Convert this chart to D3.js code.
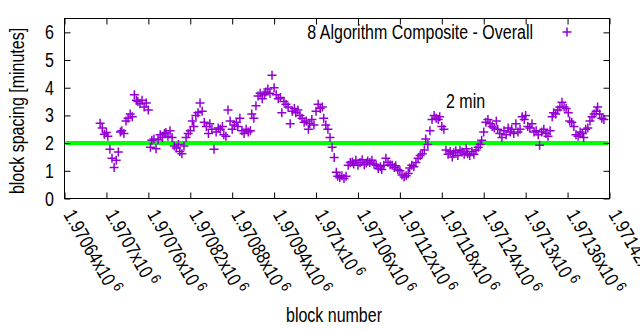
<!DOCTYPE html>
<html><head><meta charset="utf-8">
<script src="https://cdn.jsdelivr.net/npm/d3@7"></script>
<style>
html,body{margin:0;padding:0;background:#fff;}
svg{display:block;}
text{font-family:"Liberation Sans",Arial,sans-serif;fill:#000;}
</style></head>
<body>
<svg id="chart" width="640" height="330"></svg>
<script>
// ---- data ----
const firstBlock = 1970691;
const lastBlock = 1971412;
const spacing = [
2.72,2.55,2.32,2.38,2.25,1.78,1.45,1.12,1.38,1.68,
2.40,2.45,2.35,2.80,2.90,3.05,2.95,3.75,3.55,3.50,
3.42,3.55,3.30,3.45,3.20,1.85,2.10,2.15,1.80,2.12,
2.30,2.20,2.35,2.38,2.25,2.45,2.20,1.90,1.82,1.95,
1.70,1.62,1.90,2.20,2.35,2.45,2.80,2.60,3.00,3.10,
3.45,3.15,2.75,2.60,2.35,2.70,2.50,1.78,2.40,2.55,
2.50,2.60,2.30,2.25,3.20,2.80,2.50,2.65,2.75,2.60,
2.90,2.45,2.35,2.50,2.40,2.45,3.05,2.90,3.35,3.70,
3.80,3.60,3.75,3.85,3.95,3.80,4.45,4.00,3.75,3.60,
3.65,3.10,3.50,3.40,3.30,2.70,3.15,3.25,3.10,3.20,
3.00,2.90,2.75,2.80,2.50,2.70,2.85,2.65,3.15,3.40,
3.25,3.30,2.90,2.65,2.50,2.20,1.85,1.48,0.95,0.80,
0.75,0.82,0.72,0.80,1.20,1.30,1.32,1.25,1.38,1.20,
1.30,1.40,1.22,1.28,1.35,1.30,1.38,1.25,1.20,1.08,
1.15,1.05,1.20,1.45,1.30,1.22,1.20,1.12,1.18,1.05,
1.00,0.85,0.78,0.82,0.90,1.10,1.20,1.15,1.30,1.45,
1.55,1.62,1.75,2.15,1.95,2.45,2.85,3.00,2.90,2.85,
2.95,2.60,2.50,1.75,1.60,1.70,1.50,1.65,1.72,1.55,
1.75,1.68,1.60,1.80,1.62,1.55,1.70,1.60,1.75,1.85,
1.95,2.10,2.40,2.75,2.85,2.70,2.60,2.55,2.80,2.50,
2.35,2.20,2.45,2.30,2.55,2.40,2.50,2.35,2.70,2.40,
2.50,2.95,2.85,3.00,2.60,2.55,2.70,2.40,2.45,2.30,
1.92,2.40,2.50,2.35,2.25,2.45,2.95,3.10,3.05,3.20,
3.30,3.48,3.30,3.25,3.10,2.80,2.75,2.60,2.30,2.25,
2.40,2.35,2.20,2.50,2.55,2.80,2.95,3.05,3.15,3.30,
3.05,2.90,2.85
];
const target = 2;
const xTickValues = [1970640,1970700,1970760,1970820,1970880,1970940,1971000,1971060,1971120,1971180,1971240,1971300,1971360,1971420];
const xTickLabels = ["1.97064","1.9707","1.97076","1.97082","1.97088","1.97094","1.971","1.97106","1.97112","1.97118","1.97124","1.9713","1.97136","1.97142"];
const yTickValues = [0,1,2,3,4,5,6];
const seriesName = "8 Algorithm Composite - Overall";
const targetLabel = "2 min";

const n = spacing.length;
const points = spacing.map((v, i) => ({
  block: firstBlock + Math.round(i * (lastBlock - firstBlock) / (n - 1)),
  v: v
}));

// ---- layout ----
const svg = d3.select("#chart");
const L = 64.5, R = 609.5, T = 18.5, B = 198.5;
const x = d3.scaleLinear().domain([1970640, 1971420]).range([L, R]);
const y = d3.scaleLinear().domain([0, 6.5]).range([B, T]);
const purple = "#9400d3";
const FS = 19.5, SX = 0.82;   // narrow sans look

function label(parent, px, py, str, anchor, rot) {
  return parent.append("text")
    .attr("transform", `translate(${px},${py}) rotate(${rot || 0}) scale(${SX},1)`)
    .attr("text-anchor", anchor || "start")
    .attr("font-size", FS)
    .text(str);
}

// target line
svg.append("line")
  .attr("x1", x(1970640)+1).attr("x2", x(1971420)-1)
  .attr("y1", y(target)).attr("y2", y(target))
  .attr("stroke", "#00ff00").attr("stroke-width", 4);

// points
const cs = 4.5;
const gp = svg.append("g").attr("stroke", purple).attr("stroke-width", 1.5).attr("fill","none");
points.forEach(p => {
  const px = x(p.block), py = y(p.v);
  gp.append("path").attr("d", `M${px-cs},${py}H${px+cs}M${px},${py-cs}V${py+cs}`);
});

// frame
svg.append("rect").attr("x", L).attr("y", T).attr("width", R-L).attr("height", B-T)
  .attr("fill", "none").attr("stroke", "#000").attr("stroke-width", 1);

// ticks (mirrored on all sides)
const tl = 6;
const gyl = svg.append("g").attr("transform", `translate(${L},0)`)
  .call(d3.axisLeft(y).tickValues(yTickValues).tickSizeInner(-tl).tickSizeOuter(0).tickFormat(""));
const gyr = svg.append("g").attr("transform", `translate(${R},0)`)
  .call(d3.axisRight(y).tickValues(yTickValues).tickSizeInner(-tl).tickSizeOuter(0).tickFormat(""));
const gxb = svg.append("g").attr("transform", `translate(0,${B})`)
  .call(d3.axisBottom(x).tickValues(xTickValues).tickSizeInner(-tl).tickSizeOuter(0).tickFormat(""));
const gxt = svg.append("g").attr("transform", `translate(0,${T})`)
  .call(d3.axisTop(x).tickValues(xTickValues).tickSizeInner(-tl).tickSizeOuter(0).tickFormat(""));
[gyl, gyr, gxb, gxt].forEach(g => {
  g.select(".domain").remove();
  g.selectAll("line").attr("stroke", "#000");
});

// y tick labels
yTickValues.forEach(v => label(svg, 54, y(v) + 7, String(v), "end"));

// rotated x tick labels
xTickValues.forEach((t, i) => {
  const tx = label(svg, x(t) - 1.5, B + 16, "", "start", 60);
  tx.append("tspan").text(xTickLabels[i] + "x10");
  tx.append("tspan").attr("font-size", FS * 0.75).attr("dx", 4).attr("dy", -7).text("6");
});

// axis titles
label(svg, 334, 322, "block number", "middle");
label(svg, 24, 111, "block spacing [minutes]", "middle", -90);

// legend
label(svg, 533, 39, seriesName, "end");
svg.append("path").attr("d", `M${567-cs},32H${567+cs}M567,${32-cs}V${32+cs}`).attr("stroke", purple).attr("stroke-width", 1.5);

// 2 min label
label(svg, 446, 108, targetLabel, "start");
</script>
</body></html>
